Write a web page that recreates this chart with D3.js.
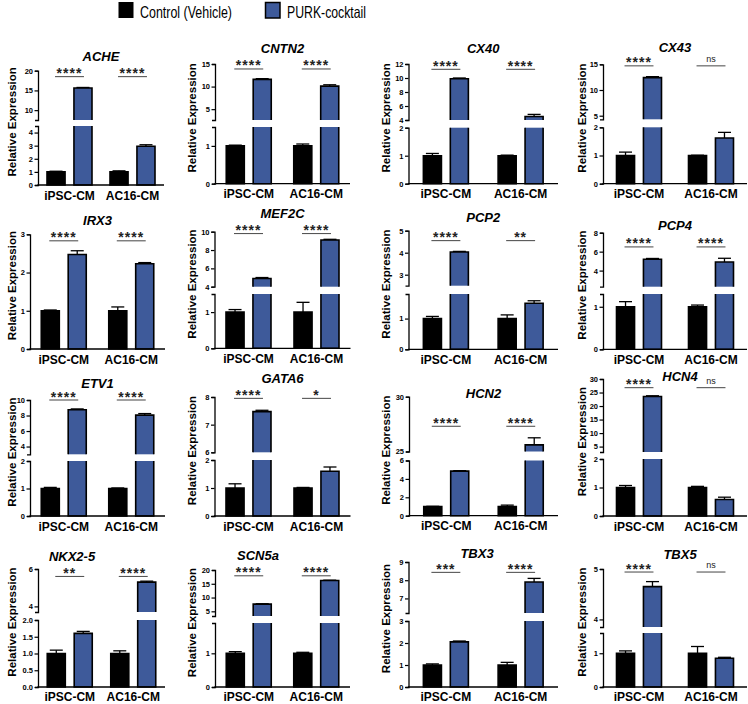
<!DOCTYPE html>
<html><head><meta charset="utf-8">
<script src="https://cdn.jsdelivr.net/npm/d3@7"></script>
<style>
body{margin:0;background:#fff}
svg{display:block}
text{font-family:"Liberation Sans",Arial,Helvetica,sans-serif}
</style>
</head><body>
<svg id="chart" width="748" height="704"></svg>
<script>
// ---------------- DATA ----------------
const genes = ["ACHE","CNTN2","CX40","CX43","IRX3","MEF2C","PCP2","PCP4","ETV1","GATA6","HCN2","HCN4","NKX2-5","SCN5a","TBX3","TBX5"];
const cellLines = ["iPSC-CM","AC16-CM"];
const treatments = ["Control (Vehicle)","PURK-cocktail"];

// mean [iPSC-CM, AC16-CM]
const controlMean = [[1,1],[1,1],[1,1],[1,1],[1,1],[1,1],[1,1],[1,1],[1,1],[1,1],[1,1],[1,1],[1,1],[1,1],[1,1],[1,1]];
const controlErr  = [[0.05,0.08],[0.02,0.05],[0.08,0.02],[0.12,0.01],[0.02,0.1],[0.07,0.27],[0.07,0.12],[0.12,0.04],[0.04,0.02],[0.15,0.02],[0.02,0.15],[0.07,0.04],[0.1,0.08],[0.05,0.03],[0.05,0.12],[0.07,0.2]];
const purkMean    = [[15.6,2.95],[11.6,10.1],[9.9,4.5],[12.4,1.62],[2.47,2.23],[4.9,9.1],[4.03,1.5],[5.2,4.9],[8.75,8.05],[7.47,1.6],[4.85,25.6],[23.5,0.58],[1.6,5.3],[7.6,16.2],[2.05,7.9],[4.65,0.85]];
const purkErr     = [[0.15,0.12],[0.15,0.3],[0.1,0.3],[0.2,0.2],[0.1,0.03],[0.1,0.07],[0.03,0.08],[0.08,0.4],[0.1,0.2],[0.05,0.15],[0.05,0.65],[0.3,0.08],[0.06,0.05],[0.15,0.1],[0.04,0.2],[0.1,0.03]];
const sigLabels   = [["****","****"],["****","****"],["****","****"],["****","ns"],["****","****"],["****","****"],["****","**"],["****","****"],["****","****"],["****","*"],["****","****"],["****","ns"],["**","****"],["****","****"],["***","****"],["****","ns"]];
const sigLevel    = [18.5,13.9,11.24,14.7,2.83,9.8,4.55,6.5,10.0,7.95,27.3,26.8,5.6,17.9,8.43,4.94];

// axis ranges (lower segment and upper segment of broken axis)
const lowerRange = [[0,4.5],[0,1.5],[0,2],[0,2],[0,3],[0,1.5],[0,1.8],[0,1.3],[0,2],[0,2],[0,6],[0,2],[0,2],[0,1.9],[0,3],[0,1.6]];
const upperRange = [[7.5,20],[2.6,15],[4,12],[4.3,15],null,[4,10],[2.5,5],[2.3,8],[3,10],[6,8],[25,30],[3,30],[3.7,6],[3.3,20],[6.2,9],[3.85,5]];
const lowerTicks = [[0,1,2,3,4],[0,1],[0,1,2],[0,1,2],[0,1,2,3],[0,1],[0,1],[0,1],[0,1,2],[0,1,2],[0,2,4,6],[0,1,2],[0,0.5,1,1.5,2],[0,1],[0,1,2,3],[0,1]];
const upperTicks = [[10,15,20],[5,10,15],[4,6,8,10,12],[5,10,15],null,[4,6,8,10],[3,4,5],[4,6,8],[4,6,8,10],[6,7,8],[25,30],[5,10,15,20,25,30],[4,6],[5,10,15,20],[7,8,9],[4,5]];

// ---------------- LAYOUT ----------------
// [axisX, rightX, top, upperBottom, lowerTop, bottom, titleX(null=center), titleY]
const panelLayout = [
  [38,164,70.7,120,126,185,null,61],
  [215,350,64,120,127,183.7,null,53],
  [408.5,558,64,120,127.7,183.7,null,53],
  [603,747,64.3,119.3,127.3,183.7,null,52],
  [30,165,234.3,null,null,349,null,225],
  [214.5,350.5,231.7,286.7,294,348.3,null,218],
  [408.5,558,230.7,285.7,294,349.3,null,222],
  [603,747,232.7,286.7,294,349.3,null,230],
  [30,165,400,454.3,461,516,null,388],
  [214.5,350.5,397,452.3,460,516,null,383],
  [409,558,396.7,451.5,460.5,515.7,null,398],
  [603,747,379,452,459,516,680,381],
  [38,165,569,612,620,687,72,561],
  [215,350,570,616,623,687,258,560],
  [408.5,558,562,613,621,687,477,558],
  [603,747,569,627,633,687,680,559]
];
const yLabelX = [12,192,386,582];
const colors = {"Control (Vehicle)":"#000000","PURK-cocktail":"#3E5A9A"};

const svg = d3.select("#chart");

// ---------------- LEGEND ----------------
const legend = svg.append("g");
legend.append("rect").attr("x",118.5).attr("y",2).attr("width",15).attr("height",16).attr("fill","#000");
legend.append("text").attr("x",140).attr("y",17.5).attr("font-size",16.5)
  .attr("textLength",92).attr("lengthAdjust","spacingAndGlyphs").text(treatments[0]);
legend.append("rect").attr("x",265.5).attr("y",2.5).attr("width",14.5).attr("height",15.5)
  .attr("fill",colors[treatments[1]]).attr("stroke","#000").attr("stroke-width",1.5);
legend.append("text").attr("x",287).attr("y",17.5).attr("font-size",16.5)
  .attr("textLength",79).attr("lengthAdjust","spacingAndGlyphs").text(treatments[1]);

// ---------------- PANELS ----------------
genes.forEach((gene,i)=>{
  const [axisX,rightX,top,ub,lt,bottom,tX,tY] = panelLayout[i];
  const col = i % 4;
  const hasBreak = upperRange[i] !== null;
  const yLow = d3.scaleLinear().domain(lowerRange[i]).range([bottom, hasBreak ? lt : top]);
  const yUp = hasBreak ? d3.scaleLinear().domain(upperRange[i]).range([ub, top]) : null;
  const yOf = v => {
    if (!hasBreak || v <= lowerRange[i][1]) return yLow(v);
    if (v < upperRange[i][0]) return yLow(lowerRange[i][1]);
    return yUp(v);
  };
  const x0 = d3.scalePoint().domain(cellLines).range([axisX,rightX]).padding(0.5);
  const x1 = d3.scaleBand().domain(treatments).range([-22.5,22.5]).paddingInner(0.33);
  const bw = x1.bandwidth();
  const g = svg.append("g");

  const segs = [{scale:yLow, lo:lowerRange[i][0], hi:lowerRange[i][1], base:true}];
  if (hasBreak) segs.push({scale:yUp, lo:upperRange[i][0], hi:upperRange[i][1], base:false});

  cellLines.forEach((cl,j)=>{
    treatments.forEach((t,k)=>{
      const mean = k===0 ? controlMean[i][j] : purkMean[i][j];
      const err = k===0 ? controlErr[i][j] : purkErr[i][j];
      const bx = x0(cl) + x1(t);
      segs.forEach(s=>{
        if (mean <= s.lo) return;
        const topV = Math.min(mean, s.hi);
        const y0 = s.scale(s.lo), y1 = s.scale(topV);
        g.append("rect").attr("x",bx).attr("y",y1).attr("width",bw).attr("height",y0-y1)
          .attr("fill",colors[t]);
        let p;
        if (mean <= s.hi) {
          p = `M${bx},${y0}L${bx},${y1}L${bx+bw},${y1}L${bx+bw},${y0}`;
          if (s.base) p += "Z";
        } else {
          p = `M${bx},${y1}L${bx},${y0}` + (s.base ? `L${bx+bw},${y0}` : `M${bx+bw},${y0}`) + `L${bx+bw},${y1}`;
        }
        g.append("path").attr("d",p).attr("fill","none").attr("stroke","#000").attr("stroke-width",1.6);
      });
      // error bar (upward)
      const cx = bx + bw/2;
      const ya = yOf(mean), yb = yOf(mean+err);
      g.append("line").attr("x1",cx).attr("x2",cx).attr("y1",ya).attr("y2",yb)
        .attr("stroke","#000").attr("stroke-width",1.3);
      g.append("line").attr("x1",cx-6.5).attr("x2",cx+6.5).attr("y1",yb).attr("y2",yb)
        .attr("stroke","#000").attr("stroke-width",1.3);
    });
    // significance
    const sy = yOf(sigLevel[i]);
    const xa = x0(cl) + x1(treatments[0]) + bw/2;
    const xb = x0(cl) + x1(treatments[1]) + bw/2;
    g.append("line").attr("x1",xa-1).attr("x2",xb+1).attr("y1",sy).attr("y2",sy)
      .attr("stroke","#555").attr("stroke-width",1.1);
    const lab = sigLabels[i][j];
    if (lab === "ns") {
      g.append("text").attr("x",(xa+xb)/2).attr("y",sy-4).attr("text-anchor","middle")
        .attr("font-size",9).attr("fill","#222").text(lab);
    } else {
      g.append("text").attr("x",(xa+xb)/2).attr("y",sy+1.5).attr("text-anchor","middle")
        .attr("font-size",14).attr("font-weight","bold").attr("letter-spacing",1).attr("fill","#222").text(lab);
    }
    // x label
    g.append("text").attr("x",x0(cl)).attr("y",Math.min(bottom+14.5, 700.5)).attr("text-anchor","middle")
      .attr("font-size",12).attr("font-weight","bold").text(cl);
  });

  // y axes
  const fmt = lowerTicks[i].some(v=>v%1!==0) ? d3.format(".1f") : d3.format("d");
  const axL = g.append("g").attr("transform",`translate(${axisX},0)`)
    .call(d3.axisLeft(yLow).tickValues(lowerTicks[i]).tickSize(3.5).tickSizeOuter(3).tickPadding(1.5).tickFormat(fmt));
  const axes = [axL];
  if (hasBreak) {
    const axU = g.append("g").attr("transform",`translate(${axisX},0)`)
      .call(d3.axisLeft(yUp).tickValues(upperTicks[i]).tickSize(3.5).tickSizeOuter(3).tickPadding(1.5).tickFormat(d3.format("d")));
    axes.push(axU);
  }
  axes.forEach(a=>{
    a.select(".domain").attr("stroke","#000").attr("stroke-width",1.3);
    a.selectAll(".tick line").attr("stroke","#000").attr("stroke-width",1.2);
    a.selectAll(".tick text").attr("font-size",7.5).attr("font-weight","bold").attr("fill","#000")
      .attr("font-family","'Liberation Sans',Arial,sans-serif");
  });

  // x axis line
  g.append("line").attr("x1",axisX-0.6).attr("x2",rightX).attr("y1",bottom).attr("y2",bottom)
    .attr("stroke","#000").attr("stroke-width",1.3);

  // title
  g.append("text").attr("x", tX === null ? (axisX+rightX)/2 : tX).attr("y",tY)
    .attr("text-anchor","middle").attr("font-size",13).attr("font-weight","bold").attr("font-style","italic")
    .text(gene);

  // y label
  const ly = (top+bottom)/2 - 6;
  g.append("text").attr("transform",`translate(${yLabelX[col]+4},${ly}) rotate(-90)`)
    .attr("text-anchor","middle").attr("font-size",11.5).attr("font-weight","bold").text("Relative Expression");
});
</script>
</body></html>
